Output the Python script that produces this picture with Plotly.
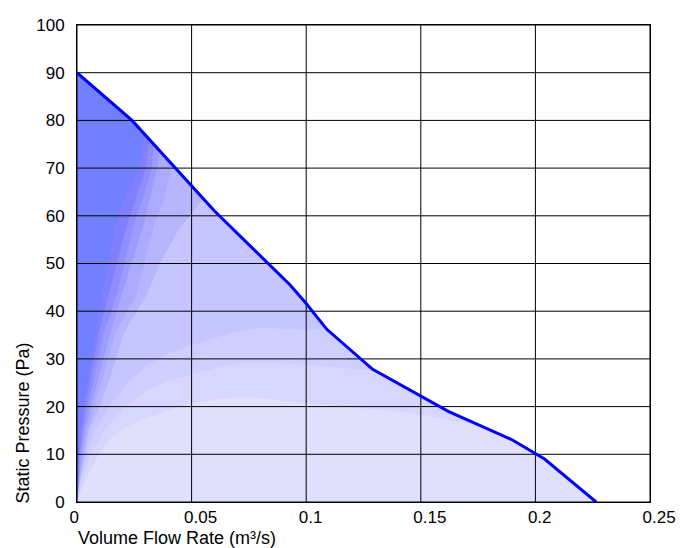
import plotly.graph_objects as go

# Fan curve (volume flow m3/s, static pressure Pa)
fan_q = [0.0, 0.024, 0.060, 0.093, 0.100, 0.109, 0.129, 0.162, 0.190, 0.204, 0.2265]
fan_p = [90.0, 80.0, 61.0, 45.5, 41.6, 36.2, 27.8, 19.0, 13.0, 9.0, 0.0]

# Shading level boundaries (from origin up to the fan curve), lightest first
b1_q = [0, 0.002, 0.0044, 0.0095, 0.015, 0.022, 0.03, 0.04, 0.05, 0.06, 0.072, 0.085, 0.097, 0.12, 0.141, 0.155, 0.168, 0.176]
b1_p = [0, 3, 5.2, 10, 13.5, 15.8, 17.6, 19.3, 20.7, 21.5, 22, 21.6, 20.8, 19.8, 18.9, 17.8, 16.6, 16.0]
b2_q = [0, 0.002, 0.006, 0.0116, 0.021, 0.03, 0.04, 0.05, 0.062, 0.074, 0.087, 0.1, 0.115, 0.13]
b2_p = [0, 4, 10, 14.8, 20, 23.3, 25.5, 26.8, 28.3, 29.2, 29.2, 28.7, 28.2, 27.5]
b3_q = [0, 0.0015, 0.0045, 0.0073, 0.014, 0.022, 0.03, 0.04, 0.054, 0.068, 0.08, 0.092, 0.1, 0.1085]
b3_p = [0, 5, 10, 14.8, 20, 25, 28.5, 31.2, 33.5, 35.5, 36.5, 36.3, 36.0, 36.5]
b4_q = [0, 0.001, 0.0035, 0.005, 0.010, 0.015, 0.0204, 0.0305, 0.036, 0.0436, 0.05, 0.055]
b4_p = [0, 4, 10, 14.8, 20, 27, 35.4, 43.6, 49.8, 56.6, 60.5, 63.5]
b5_q = [0, 0.0027, 0.0045, 0.0075, 0.0167, 0.026, 0.0335, 0.0378, 0.040, 0.0415]
b5_p = [0, 10, 14.8, 20, 35.4, 43.6, 58, 63, 68, 70.8]
b6_q = [0, 0.002, 0.0035, 0.006, 0.0145, 0.0196, 0.029, 0.032, 0.035, 0.036]
b6_p = [0, 10, 14.8, 20, 35.4, 43.6, 58, 64, 70, 73.7]
b7_q = [0, 0.0015, 0.0028, 0.0048, 0.0116, 0.0175, 0.0247, 0.029, 0.0327, 0.0335]
b7_p = [0, 10, 14.8, 20, 35.4, 43.6, 58, 64, 70, 75.0]
b8_q = [0, 0.0011, 0.002, 0.0036, 0.0095, 0.0138, 0.0218, 0.026, 0.030, 0.0315]
b8_p = [0, 10, 14.8, 20, 35.4, 43.6, 58, 64, 70, 76.0]
b9_q = [0, 0.0007, 0.0013, 0.0025, 0.008, 0.0109, 0.0167, 0.021, 0.027, 0.0295]
b9_p = [0, 10, 14.8, 20, 35.4, 43.6, 58, 64, 70, 77.1]

level_colors = [
    "rgb(224,224,253)", "rgb(214,214,255)", "rgb(206,206,255)", "rgb(197,197,255)",
    "rgb(182,182,255)", "rgb(170,170,255)", "rgb(156,156,255)", "rgb(142,142,255)",
    "rgb(127,127,255)", "rgb(112,128,255)",
]

x_ticks = [0, 0.05, 0.1, 0.15, 0.2, 0.25]
x_labels = ["0", "0.05", "0.1", "0.15", "0.2", "0.25"]
y_ticks = [0, 10, 20, 30, 40, 50, 60, 70, 80, 90, 100]
y_labels = [str(v).rjust(3).replace(" ", "\u2007") for v in y_ticks]

x_title = "Volume Flow Rate (m³/s)"
y_title = "Static Pressure (Pa)"

FONT = "Liberation Sans, Arial, sans-serif"

fig = go.Figure()

# base level under the fan curve
fig.add_trace(go.Scatter(x=fan_q, y=fan_p, mode="lines", line=dict(width=0),
                         fill="tozeroy", fillcolor=level_colors[0], hoverinfo="skip",
                         showlegend=False))

boundaries = [(b1_q, b1_p), (b2_q, b2_p), (b3_q, b3_p), (b4_q, b4_p), (b5_q, b5_p),
              (b6_q, b6_p), (b7_q, b7_p), (b8_q, b8_p), (b9_q, b9_p)]
for i, (bq, bp) in enumerate(boundaries):
    qe = bq[-1]
    back = [(q, p) for q, p in zip(fan_q, fan_p) if q < qe][::-1]
    xs = list(bq) + [q for q, _ in back] + [0]
    ys = list(bp) + [p for _, p in back] + [0]
    fig.add_trace(go.Scatter(x=xs, y=ys, mode="lines", line=dict(width=0),
                             fill="toself", fillcolor=level_colors[i + 1],
                             hoverinfo="skip", showlegend=False))

# grid drawn above the shading
gx, gy = [], []
for t in x_ticks:
    gx += [t, t, None]
    gy += [y_ticks[0], y_ticks[-1], None]
for t in y_ticks:
    gx += [x_ticks[0], x_ticks[-1], None]
    gy += [t, t, None]
fig.add_trace(go.Scatter(x=gx, y=gy, mode="lines", line=dict(color="black", width=1),
                         hoverinfo="skip", showlegend=False))

# fan curve
fig.add_trace(go.Scatter(x=fan_q, y=fan_p, mode="lines",
                         line=dict(color="rgb(0,0,255)", width=3),
                         showlegend=False))

fig.update_layout(
    width=684, height=540,
    margin=dict(l=69, r=42, t=8, b=46),
    paper_bgcolor="white", plot_bgcolor="white",
    font=dict(family=FONT, size=17, color="black"),
    showlegend=False,
    xaxis=dict(range=[0, 0.25], tickvals=x_ticks, ticktext=x_labels, showgrid=False,
               zeroline=False, showline=True, linecolor="black", linewidth=1, mirror=True,
               ticks="", ticklabelposition="outside right", ticklabelshift=-8,
               ticklabeloverflow="allow", fixedrange=True),
    yaxis=dict(range=[0, 100], tickvals=y_ticks, ticktext=y_labels, showgrid=False,
               zeroline=False, showline=True, linecolor="black", linewidth=1, mirror=True,
               ticks="", ticklabelstandoff=8, ticklabeloverflow="allow", fixedrange=True),
    annotations=[
        dict(text=x_title, xref="paper", yref="paper", x=0, y=0, xanchor="left",
             yanchor="middle", yshift=-36, xshift=-1, showarrow=False, font=dict(size=18)),
        dict(text=y_title, xref="paper", yref="paper", x=0, y=0, xanchor="center",
             yanchor="bottom", xshift=-55, yshift=-4, textangle=-90, showarrow=False,
             font=dict(size=18)),
    ],
)

fig.write_html("out.html")
